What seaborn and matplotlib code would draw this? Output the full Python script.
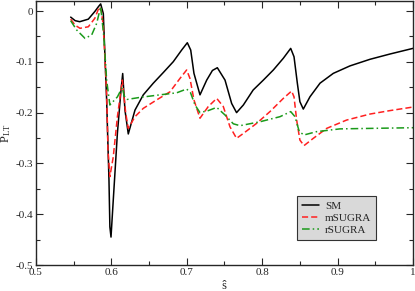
# P_LT versus s-hat for SM, mSUGRA and rSUGRA

import numpy as np
import pandas as pd
import matplotlib
matplotlib.use('Agg')
import matplotlib.pyplot as plt
import seaborn as sns

# values
sm_x = [0.546, 0.552, 0.558, 0.5694, 0.578, 0.5830, 0.5858, 0.5893, 0.5937, 0.5968, 0.598, 0.5995,
        0.6025, 0.608, 0.6128, 0.615, 0.618, 0.6224, 0.6313, 0.6423, 0.6556, 0.6689, 0.6821,
        0.6932, 0.7007, 0.7052, 0.7095, 0.7175, 0.7264, 0.7340, 0.7405, 0.7507, 0.7595, 0.7660,
        0.775, 0.788, 0.8015, 0.8148, 0.828, 0.8378, 0.8422, 0.8466, 0.850, 0.8545, 0.8634,
        0.8767, 0.8943, 0.9164, 0.943, 0.9695, 1.0]
sm_y = [-0.012, -0.019, -0.021, -0.016, -0.001, 0.009, 0.014, -0.005, -0.175, -0.333, -0.425, -0.445,
        -0.372, -0.240, -0.155, -0.123, -0.195, -0.242, -0.195, -0.165, -0.142, -0.121, -0.0997,
        -0.0768, -0.0624, -0.0768, -0.1227, -0.165, -0.136, -0.117, -0.1116, -0.136, -0.182, -0.200,
        -0.185, -0.1555, -0.136, -0.116, -0.093, -0.0735, -0.090, -0.142, -0.1785, -0.193, -0.1687,
        -0.142, -0.1227, -0.108, -0.095, -0.0846, -0.0735]

msugra_x = [0.546, 0.552, 0.5584, 0.5694, 0.578, 0.584, 0.5865, 0.5894, 0.5937, 0.5955, 0.598,
            0.6025, 0.608, 0.6145, 0.619, 0.6224, 0.6313, 0.6423, 0.660, 0.6777, 0.691, 0.6998,
            0.7042, 0.7095, 0.7175, 0.7285, 0.7397, 0.7484, 0.7573, 0.766, 0.775, 0.7927, 0.8103,
            0.828, 0.839, 0.8422, 0.8457, 0.850, 0.8554, 0.8678, 0.8855, 0.912, 0.943, 0.9695, 1.0]
msugra_y = [-0.016, -0.028, -0.034, -0.031, -0.0144, 0.0085, 0.002, -0.031, -0.162, -0.274, -0.326,
            -0.287, -0.208, -0.136, -0.201, -0.231, -0.208, -0.1916, -0.175, -0.159, -0.1326, -0.116,
            -0.1326, -0.175, -0.211, -0.188, -0.172, -0.188, -0.228, -0.2506, -0.241, -0.221, -0.198,
            -0.172, -0.1575, -0.169, -0.2146, -0.254, -0.265, -0.2506, -0.231, -0.2146, -0.2028,
            -0.196, -0.189]

rsugra_x = [0.546, 0.554, 0.565, 0.5739, 0.5805, 0.5858, 0.590, 0.5937, 0.598, 0.608,
            0.6145, 0.617, 0.621, 0.638, 0.6645, 0.6866, 0.6998, 0.705, 0.7109, 0.7175, 0.7285,
            0.7397, 0.7507, 0.7617, 0.7706, 0.797, 0.8236, 0.8378, 0.8435, 0.8492, 0.8554, 0.872,
            0.903, 1.0]
rsugra_y = [-0.019, -0.0374, -0.0538, -0.047, -0.0242, 0.0085, -0.0505, -0.136, -0.185, -0.169,
            -0.150, -0.167, -0.174, -0.170, -0.165, -0.161, -0.1535, -0.161, -0.185, -0.200, -0.196,
            -0.1897, -0.2047, -0.222, -0.2257, -0.218, -0.208, -0.198, -0.208, -0.2375, -0.244, -0.2375,
            -0.232, -0.2297]

series_names = ['SM', 'mSUGRA', 'rSUGRA']
series_colors = ['black', '#ff2020', '#1a9a1a']
series_dashes = [(None, None), (4, 2), (5, 2, 1, 2)]

sns.set_style('ticks')
plt.rcParams['font.family'] = ['Liberation Serif', 'DejaVu Serif']
plt.rcParams['mathtext.fontset'] = 'custom'
plt.rcParams['mathtext.rm'] = 'Liberation Serif'
plt.rcParams['mathtext.it'] = 'Liberation Serif:italic'
plt.rcParams['font.size'] = 8

fig = plt.figure(figsize=(4.15, 2.91), dpi=100)
ax = fig.add_axes([0.0867, 0.0893, 0.9085, 0.9077])

all_x = [sm_x, msugra_x, rsugra_x]
all_y = [sm_y, msugra_y, rsugra_y]
for name, xs, ys, c, d in zip(series_names, all_x, all_y, series_colors, series_dashes):
    df = pd.DataFrame({'s': xs, 'P': ys})
    line_ax = sns.lineplot(data=df, x='s', y='P', ax=ax, color=c, lw=1.1,
                           label=name, sort=False)
    ln = line_ax.lines[-1]
    ln.set_solid_joinstyle('round')
    ln.set_dash_joinstyle('round')
    if d[0] is not None:
        ln.set_dashes(d)

ax.set_xlim(0.5, 1.0)
ax.set_ylim(-0.5, 0.02)
ax.set_xticks(np.arange(0.5, 1.01, 0.1))
ax.set_xticklabels(['0.5', '0.6', '0.7', '0.8', '0.9', '1'])
ax.set_xticks(np.arange(0.55, 1.0, 0.1), minor=True)
ax.set_yticks(np.arange(-0.5, 0.01, 0.1))
ax.set_yticklabels(['-0.5', '-0.4', '-0.3', '-0.2', '-0.1', '0'])
ax.set_yticks(np.arange(-0.45, 0.0, 0.1), minor=True)
ax.tick_params(which='both', direction='in', top=True, right=True, width=0.8, labelsize=8, pad=2)
ax.tick_params(which='major', length=5)
ax.tick_params(which='minor', length=3)
for sp in ax.spines.values():
    sp.set_linewidth(1.0)

ax.set_xlabel('ŝ', fontsize=9, labelpad=2)
ax.set_ylabel(r'$\mathrm{P_{LT}}$', fontsize=9, labelpad=2)

leg = ax.legend(loc='lower left', bbox_to_anchor=(0.692, 0.095), fancybox=False,
                facecolor='#d9d9d9', edgecolor='#333333', framealpha=1, shadow=False,
                fontsize=8, handlelength=1.5, borderpad=0.45, labelspacing=0.2,
                handletextpad=0.6, borderaxespad=0)
leg.get_frame().set_linewidth(0.8)

fig.savefig('out.png', dpi=100)
